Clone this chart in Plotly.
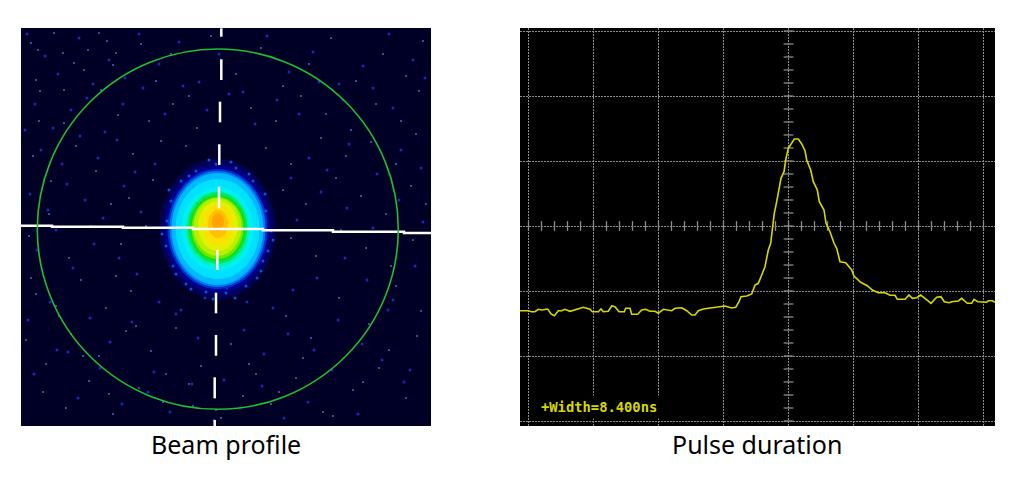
import numpy as np
import plotly.graph_objects as go

W, H = 1026, 500

# scope trace: sample column / level
pulse_sample = [0, 8.3, 11.7, 15, 18.3, 21.7, 27.7, 31, 34.3, 38.3, 41.7, 45, 50, 55, 63.3, 70, 72.3, 78.3, 81,
                83.3, 88.3, 91.7, 95, 99, 104.3, 105.7, 110, 111.7, 117.7, 121.7, 125.7, 130, 135, 138.3, 143.3,
                151.7, 155, 161.7, 166.7, 171.7, 175, 178.3, 183.3, 188.3, 195, 205, 211.7, 215.7, 219, 221,
                226.7, 231.7, 235, 238.3, 241.7, 245, 248.3, 250.7, 252.3, 254.3, 256.7, 259, 261, 264, 266,
                268.3, 271.7, 274.3, 278.3, 281.7, 285, 286.7, 290.7, 293.3, 297.3, 299.3, 304, 306, 310, 314,
                316.7, 320, 325.7, 331.7, 334, 340.7, 347.3, 352.3, 358.3, 365, 370, 375, 377.3, 385, 389, 392.3,
                396.7, 400.7, 405, 411, 416.7, 421, 424.3, 429.3, 431.7, 438.3, 441.7, 447.3, 451.7, 454, 457.7,
                466.7, 468.3, 472.3, 475]
pulse_level = [115.3, 115.3, 114.3, 114.3, 116.7, 116, 117, 112, 110.3, 115.3, 115.3, 116.7, 114.7, 116, 118.7,
               116.7, 114.3, 114.3, 117, 114.3, 114.7, 120, 119.3, 114.3, 114.3, 117.7, 117.7, 111.7, 111.7, 116,
               116.7, 114.7, 114.7, 112.7, 116.7, 115.3, 117.7, 118.3, 115.3, 111, 111, 115.3, 117, 117.7, 118.7,
               120, 118, 118.7, 124.3, 129.3, 130, 132, 141, 142.7, 151, 159.3, 176, 182.7, 196, 212.7, 224.3,
               239.3, 247.7, 254.3, 267.7, 277.7, 283.3, 287, 287, 282, 275.3, 266, 256, 244.3, 236, 224.3, 216,
               202.7, 194.3, 182.7, 177.7, 164.3, 163.3, 156, 150, 143.7, 140.3, 136, 133.3, 133.3, 130.7, 130.7,
               126.7, 126.7, 131, 127.7, 128.3, 131, 127.7, 122.7, 128.7, 129.3, 124.3, 123.3, 124.3, 125, 127.7,
               122.7, 122.7, 126.7, 124.3, 123.7, 125.3, 125.3, 123.7]

# beam spot bands, outer to inner
band_cx = [196.5, 196.5, 196.5, 196.5, 196.5, 196.5, 196.5, 196.5, 196.5, 196.5, 196.5, 196.5, 197, 197, 197, 197]
band_cy = [197, 197, 197, 197, 197, 197, 197, 197, 198, 198, 198, 199, 200, 201, 202, 204]
band_rx = [58, 53, 50, 48, 46, 42, 36, 32, 30, 28, 26, 24, 20, 15, 10, 6]
band_ry = [70, 64, 60, 58, 56, 50, 42, 38, 36, 33, 31, 29, 25, 20, 14, 9]
band_color = ["#000058", "#00008c", "#0030d0", "#0078f0", "#00b8ff", "#00e0ff", "#00f0f0", "#00f0c0", "#00e860",
              "#10e010", "#70e800", "#b8ee00", "#e4f000", "#fbe000", "#ffc000", "#ffa400"]

# fixture lines on the beam image
cross_x = [0, 31, 102, 172, 242, 312, 383, 410]
cross_y = [200.3, 199.3, 198.3, 197, 195.7, 194.3, 193, 193]
dash_x = [200.3, 200.3, None, 200.3, 200.3, None, 199, 199, None, 198.3, 198.3, None, 198, 198, None,
          196.3, 196.3, None, 195, 195, None, 195, 195, None, 193.7, 193.7, None, 193.7, 193.7]
dash_y = [397.7, 389.3, None, 366.7, 346, None, 324.3, 303.7, None, 281.7, 261, None, 239.3, 217.7, None,
          176, 156, None, 133.3, 112.7, None, 91, 70.3, None, 48.7, 27.7, None, 6, 0]

# camera noise, brightest specks only
speck_x = [17, 19, 15, 43, 42, 67, 86, 63, 53, 78, 95, 10, 33, 18, 80, 97, 43, 92, 120, 135, 150, 168, 190, 215,
           240, 262, 288, 310, 335, 362, 385, 402, 128, 152, 176, 230, 255, 280, 305, 330, 355, 380, 398, 112, 140,
           165, 245, 270, 300, 325, 350, 375, 395, 108, 132, 262, 285, 315, 340, 365, 390, 405, 100, 125, 270, 295,
           320, 345, 370, 392, 12, 30, 55, 75, 90, 8, 28, 48, 70, 95, 15, 38, 60, 85, 110, 5, 25, 50, 78, 105, 130,
           155, 180, 210, 235, 265, 290, 318, 348, 375, 400, 22, 45, 68, 92, 118, 142, 168, 195, 222, 250, 275, 302,
           332, 358, 385, 10, 35, 62, 88, 115, 145, 172, 200, 228, 258, 282, 312, 342, 368, 396]
speck_y = [376, 335, 346, 336, 373, 376, 385, 356, 363, 393, 373, 383, 393, 305, 336, 311, 303, 361, 382, 345,
           372, 330, 390, 352, 378, 340, 362, 388, 345, 372, 350, 385, 305, 322, 298, 318, 305, 330, 312, 296, 322,
           305, 335, 272, 285, 280, 278, 262, 288, 270, 284, 262, 292, 228, 246, 236, 222, 248, 230, 212, 240, 222,
           182, 200, 188, 170, 196, 178, 160, 186, 270, 245, 280, 255, 222, 190, 212, 168, 200, 150, 132, 110, 146,
           118, 135, 86, 62, 92, 70, 95, 75, 98, 60, 82, 52, 110, 88, 128, 102, 140, 115, 34, 18, 45, 12, 38, 24, 42,
           16, 30, 22, 48, 14, 36, 58, 28, 148, 120, 70, 32, 100, 52, 20, 8, 62, 34, 68, 10, 44, 76, 90]

# dimmer noise
dim_x = [6, 24, 37, 58, 72, 88, 104, 118, 138, 158, 178, 198, 222, 246, 268, 292, 318, 342, 368, 392, 14, 32, 50, 66,
         84, 102, 122, 144, 162, 186, 208, 234, 256, 278, 298, 322, 352, 372, 404, 4, 20, 41, 59, 77, 96, 114, 134,
         270, 288, 306, 328, 356, 380, 400, 9, 27, 46, 64, 82, 103, 120, 276, 300, 326, 352, 378, 402, 16, 35, 52, 73,
         98, 116, 138, 160, 184, 206, 226, 252, 272, 296, 324, 346, 372, 394, 7, 29, 47, 69, 89, 111, 133, 155, 177,
         203, 223, 243, 267, 293, 317, 341, 367, 389, 13, 36, 57, 79, 101, 127, 149, 171, 193, 219, 241, 263, 287, 311,
         337, 361, 383]
dim_y = [392, 370, 352, 388, 342, 366, 348, 392, 362, 384, 344, 372, 334, 390, 354, 374, 342, 360, 392, 366, 322, 298,
         316, 328, 294, 322, 338, 312, 340, 316, 332, 302, 326, 312, 344, 326, 338, 318, 348, 296, 276, 262, 290, 268,
         286, 254, 262, 248, 268, 256, 282, 252, 276, 258, 232, 216, 242, 226, 208, 240, 214, 206, 234, 218, 198, 226,
         204, 176, 196, 158, 182, 168, 152, 124, 116, 128, 138, 124, 118, 136, 148, 168, 146, 126, 160, 106, 124, 74,
         108, 84, 104, 54, 112, 88, 46, 96, 72, 92, 76, 106, 82, 116, 56, 52, 76, 28, 58, 22, 34, 14, 42, 6, 18, 40, 8,
         24, 56, 12, 66, 44]

# noisy rim of the beam
rim_x = [245, 250, 247, 240, 225, 205, 185, 165, 152, 145, 146, 150, 160, 175, 195, 215, 232, 244, 252, 236, 214, 192,
         170, 155, 141, 148, 168, 188, 210, 228, 242]
rim_y = [215, 195, 175, 155, 140, 133, 134, 142, 160, 180, 205, 225, 245, 255, 262, 258, 245, 232, 186, 148, 128, 127,
         137, 152, 192, 236, 250, 266, 264, 252, 165]

# scope graduation marks, 13 columns apart on the centre lines
h_marks = np.arange(8.5, 464, 13)
v_marks = np.arange(5, 396, 13)

captions = ["Beam profile", "Pulse duration"]
readout = "+Width=8.400ns"

fig = go.Figure()

fig.add_trace(go.Scatter(x=dim_x, y=dim_y, mode="markers", xaxis="x", yaxis="y",
                         marker=dict(color="#1c28b8", size=3, line=dict(width=0)), hoverinfo="skip"))
fig.add_trace(go.Scatter(x=speck_x, y=speck_y, mode="markers", xaxis="x", yaxis="y",
                         marker=dict(color="#4a66d0", size=2, line=dict(width=0)), hoverinfo="skip"))
fig.add_trace(go.Scatter(x=rim_x, y=rim_y, mode="markers", xaxis="x", yaxis="y",
                         marker=dict(color="#0058e0", size=3, line=dict(width=0)), hoverinfo="skip"))
fig.add_trace(go.Scatter(x=cross_x, y=cross_y, mode="lines", xaxis="x", yaxis="y",
                         line=dict(color="white", width=2.5, shape="hv"), hoverinfo="skip"))
fig.add_trace(go.Scatter(x=dash_x, y=dash_y, mode="lines", xaxis="x", yaxis="y",
                         line=dict(color="white", width=2.5), hoverinfo="skip"))

fig.add_trace(go.Scatter(x=h_marks, y=[200] * len(h_marks), mode="markers", xaxis="x2", yaxis="y2",
                         marker=dict(symbol="line-ns", size=7, line=dict(color="#8c8c8c", width=1.3)), hoverinfo="skip"))
fig.add_trace(go.Scatter(x=[268.5] * len(v_marks), y=v_marks, mode="markers", xaxis="x2", yaxis="y2",
                         marker=dict(symbol="line-ew", size=7, line=dict(color="#8c8c8c", width=1.3)), hoverinfo="skip"))
fig.add_trace(go.Scatter(x=pulse_sample, y=pulse_level, mode="lines", xaxis="x2", yaxis="y2",
                         line=dict(color="#d8d800", width=1.6), hoverinfo="skip"))

for cx, cy, rx, ry, color in zip(band_cx, band_cy, band_rx, band_ry, band_color):
    fig.add_shape(type="circle", xref="x", yref="y", layer="below",
                  x0=cx - rx, x1=cx + rx, y0=cy - ry, y1=cy + ry,
                  fillcolor=color, line=dict(width=0))
fig.add_shape(type="circle", xref="x", yref="y", x0=16.3, x1=377.3, y0=16.7, y1=377,
              line=dict(color="#1cc030", width=1.6))

for caption, cap_x in zip(captions, [226, 757]):
    fig.add_annotation(text=caption, xref="paper", yref="paper", x=cap_x / W, y=1 - 444 / H, showarrow=False,
                       xanchor="center", yanchor="middle",
                       font=dict(family="Noto Sans", size=25, color="black"))
fig.add_annotation(text="<b>" + readout + "</b>", xref="x2", yref="y2", x=79, y=19.5, showarrow=False,
                   bgcolor="black", borderpad=3,
                   font=dict(family="DejaVu Sans Mono", size=13.8, color="#d8d800"))

fig.update_layout(
    width=W, height=H, margin=dict(l=0, r=0, t=0, b=0),
    paper_bgcolor="white", plot_bgcolor="#000000", showlegend=False,
    xaxis=dict(domain=[21 / W, 431 / W], range=[0, 410], showgrid=False, zeroline=False, showticklabels=False),
    yaxis=dict(domain=[1 - 426 / H, 1 - 28 / H], range=[0, 398], showgrid=False, zeroline=False, showticklabels=False),
    xaxis2=dict(domain=[520 / W, 995 / W], range=[0, 475], anchor="y2", tick0=8.5, dtick=65, showgrid=True,
                gridcolor="#8c8c8c", griddash="1.5px,1.5px", gridwidth=1.3, zeroline=False, showticklabels=False),
    yaxis2=dict(domain=[1 - 426 / H, 1 - 28 / H], range=[0, 398], anchor="x2", tick0=5, dtick=65, showgrid=True,
                gridcolor="#8c8c8c", griddash="1.5px,1.5px", gridwidth=1.3, zeroline=False, showticklabels=False),
)
# navy tint of the camera frame, under the bands
fig.layout.shapes = (dict(type="rect", xref="x domain", yref="y domain", x0=0, x1=1, y0=0, y1=1, layer="below",
                          fillcolor="#000026", line=dict(width=0)),) + fig.layout.shapes

fig.write_html("out.html", config=dict(displayModeBar=False), post_script="document.body.style.margin='0';")
